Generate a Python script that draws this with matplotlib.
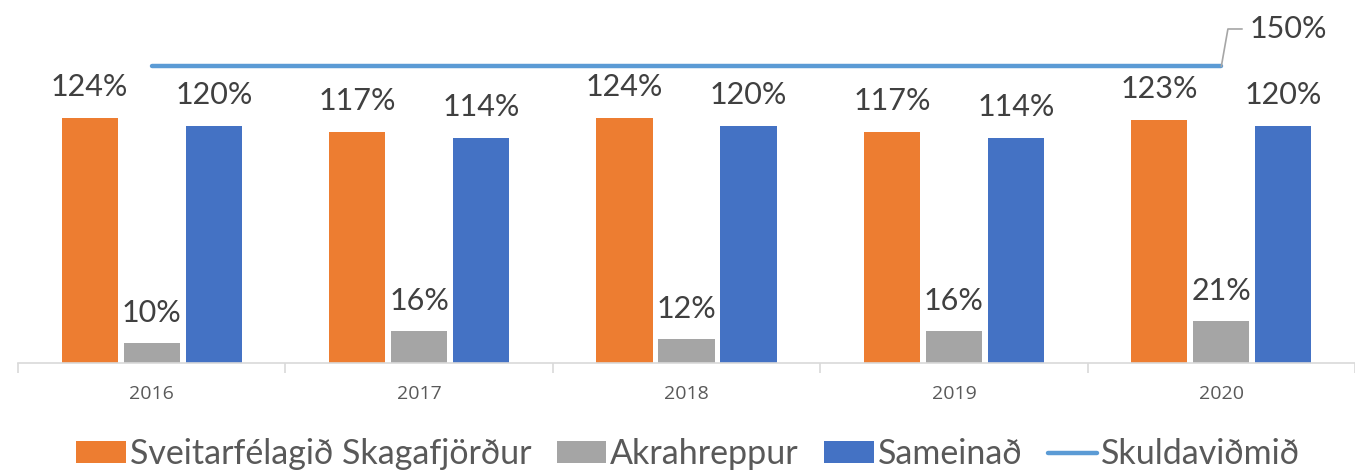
import numpy as np
import matplotlib.pyplot as plt
from matplotlib.ticker import FixedLocator

plt.rcParams["font.family"] = ["Lato", "DejaVu Sans"]

years = ["2016", "2017", "2018", "2019", "2020"]
skagafjordur = [124, 117, 124, 117, 123]
akrahreppur = [10, 16, 12, 16, 21]
sameinad = [120, 114, 120, 114, 120]
skuldavidmid = [150, 150, 150, 150, 150]

series = [
    ("Sveitarfélagið Skagafjörður", skagafjordur, "#ED7D31"),
    ("Akrahreppur", akrahreppur, "#A5A5A5"),
    ("Sameinað", sameinad, "#4472C4"),
]

fig = plt.figure(figsize=(13.55, 4.7), dpi=100)
ax = fig.add_axes([0.0133, 0.2277, 0.9867, 0.757])

x = np.arange(len(years))
width = 0.21
offset = 0.232
handles = []
for i, (name, vals, color) in enumerate(series):
    bars = ax.bar(x + (i - 1) * offset, vals, width, color=color, label=name)
    ax.bar_label(bars, labels=[f"{v}%" for v in vals], padding=12,
                 fontsize=22, color="#404040")
    handles.append(bars)

line, = ax.plot(x, skuldavidmid, color="#5B9BD5", linewidth=3.2,
                solid_capstyle="round", label="Skuldaviðmið")
handles.append(line)
ax.annotate(f"{skuldavidmid[-1]}%", xy=(x[-1], skuldavidmid[-1]),
            xytext=(20, 27), textcoords="offset points",
            fontsize=22, color="#404040", va="center", ha="left",
            arrowprops=dict(arrowstyle="-", color="#A6A6A6", lw=1.2,
                            shrinkA=3, shrinkB=0,
                            connectionstyle="angle,angleA=0,angleB=80,rad=0"))

ax.set_xlim(-0.5, len(years) - 0.5)
ax.set_ylim(0, 180)
ax.set_xticks(x)
ax.set_xticklabels(years, fontsize=14, color="#595959",
                   family=["Open Sans", "DejaVu Sans"])
ax.xaxis.set_minor_locator(FixedLocator(np.arange(-0.5, len(years), 1.0)))
ax.tick_params(axis="x", which="major", length=0, pad=16)
ax.tick_params(axis="x", which="minor", length=7, color="#D9D9D9", width=1.2)
ax.set_yticks([])
for s in ["top", "right", "left"]:
    ax.spines[s].set_visible(False)
ax.spines["bottom"].set_color("#D9D9D9")
ax.spines["bottom"].set_linewidth(1.2)

fig.legend(handles, [h.get_label() for h in handles],
           loc="lower center", bbox_to_anchor=(0.508, -0.065), ncol=4,
           frameon=False, fontsize=24.5, handlelength=1.45, handleheight=0.6,
           handletextpad=0.12, columnspacing=0.75, labelcolor="#595959")

fig.savefig("out.png", dpi=100)
